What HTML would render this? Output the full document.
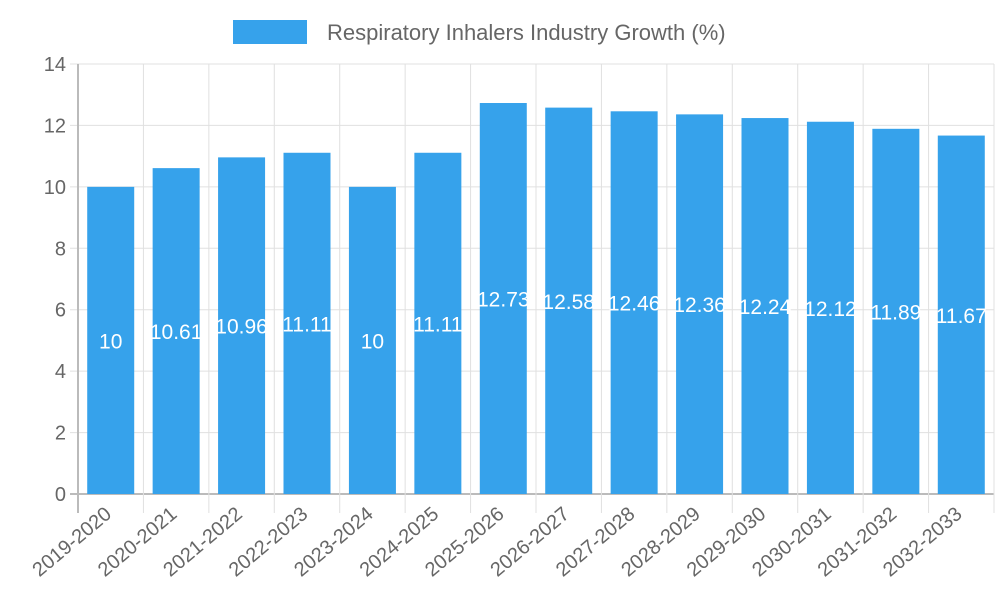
<!DOCTYPE html>
<html><head><meta charset="utf-8"><style>
body{margin:0;background:#fff;}
svg{display:block;font-family:"Liberation Sans",sans-serif;}
</style></head><body>
<svg id="c" width="1000" height="600">
<rect x="233" y="20" width="74" height="24" fill="#36a2eb"/>
<text x="327" y="40" font-size="22" fill="#666">Respiratory Inhalers Industry Growth (%)</text>
</svg>
<script>
const categories=["2019-2020","2020-2021","2021-2022","2022-2023","2023-2024","2024-2025","2025-2026","2026-2027","2027-2028","2028-2029","2029-2030","2030-2031","2031-2032","2032-2033"];
const values=[10,10.61,10.96,11.11,10,11.11,12.73,12.58,12.46,12.36,12.24,12.12,11.89,11.67];
const yTicks=[0,2,4,6,8,10,12,14];
const NS="http://www.w3.org/2000/svg",svg=document.getElementById('c');
const L=78,R=994,T=64,B=494,yMax=14;
const bw=(R-L)/categories.length;
const y=v=>B-(B-T)*v/yMax;
const x=i=>L+bw*i;
function mk(t,a,p){const e=document.createElementNS(NS,t);for(const k in a)e.setAttribute(k,a[k]);(p||svg).appendChild(e);return e;}
const grid=mk('g',{});


yTicks.forEach(t=>{
  const l=mk('line',{x1:L-8,x2:R,y1:y(t),y2:y(t),stroke:t===0?'#bbb':'#e0e0e0','stroke-width':t===0?2:1},grid);
  
  
  const tx=mk('text',{x:L-12,y:y(t)+7,'text-anchor':'end','font-size':20,fill:'#666'});
  tx.textContent=t;
  
  
});
for(let i=0;i<=categories.length;i++){
  const l=mk('line',{x1:x(i),x2:x(i),y1:T,y2:B+19,stroke:i===0?'#bbb':'#e0e0e0','stroke-width':i===0?2:1},grid);
  
  
}
categories.forEach((c,i)=>{
  const cx=x(i)+bw/2,w=47;
  const r=mk('rect',{x:cx-w/2,y:y(values[i]),width:w,height:B-y(values[i]),fill:'#36a2eb'});
  
  
  const v=mk('text',{x:cx,y:(y(values[i])+B)/2+8,'text-anchor':'middle','font-size':21,fill:'#fff'});
  v.textContent=values[i];
  
  
  const t=mk('text',{x:cx+2,y:B+22,'text-anchor':'end','font-size':20,fill:'#666',transform:`rotate(-40 ${cx+2} ${B+22})`});
  t.textContent=c;
  
  
});
</script>
</body></html>
